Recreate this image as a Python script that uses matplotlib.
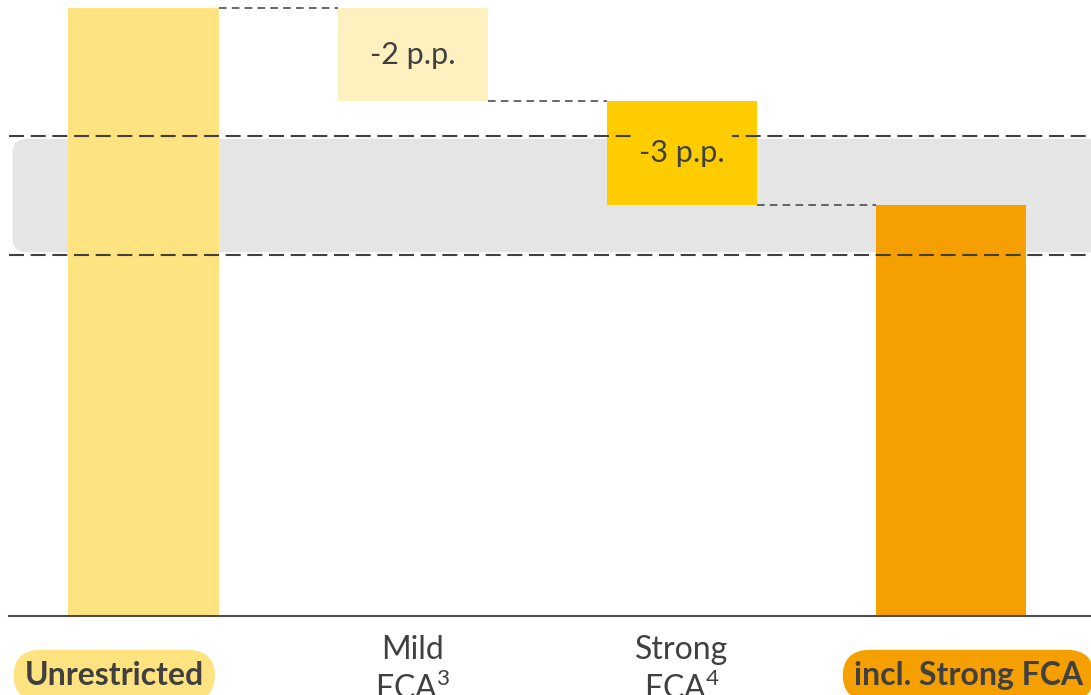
import matplotlib.pyplot as plt
from matplotlib.patches import FancyBboxPatch

plt.rcParams["font.family"] = ["Lato", "DejaVu Sans"]
plt.rcParams["mathtext.fontset"] = "custom"
plt.rcParams["mathtext.rm"] = "Lato"

# waterfall data (percentage points)
categories = ["Unrestricted", "Mild", "Strong", "incl. Strong FCA"]
footnotes = [None, "3", "4", None]
unrestricted = 15.0
changes = [-2.3, -2.55]
target_band = [8.9, 11.85]

bar_colors = ["#FFE380", "#FFF0C0", "#FFCC00", "#F5A000"]
text_color = "#404040"

fig = plt.figure(figsize=(10.91, 6.95), dpi=100)
ax = fig.add_axes([9 / 1091, 79 / 695, 1082 / 1091, 616 / 695])
ax.set_xlim(-0.5, 3.52)
ax.set_ylim(0, 15.2)

# bar geometry
levels = [unrestricted]
for c in changes:
    levels.append(levels[-1] + c)
final = levels[-1]
bottoms = [0.0] + [levels[i + 1] for i in range(len(changes))] + [0.0]
heights = [unrestricted] + [-c for c in changes] + [final]
xs = list(range(len(categories)))
width = 0.558

ax.bar(xs, heights, bottom=bottoms, width=width, color=bar_colors, zorder=2)

# pixel-to-data scales for rounded shapes
fig.canvas.draw()
bb = ax.get_window_extent()
x_per_px = (ax.get_xlim()[1] - ax.get_xlim()[0]) / bb.width
y_per_px = (ax.get_ylim()[1] - ax.get_ylim()[0]) / bb.height

# grey target band
inset = 3 * y_per_px
band = FancyBboxPatch((-0.487, target_band[0] + inset), 4.5,
                      target_band[1] - target_band[0] - 2 * inset,
                      boxstyle=f"round,pad=0,rounding_size={15 * x_per_px}",
                      mutation_aspect=y_per_px / x_per_px,
                      facecolor="#E5E5E5", edgecolor="none", zorder=0.5)
ax.add_patch(band)
for y in target_band:
    ax.axhline(y, color=text_color, lw=1.5, linestyle=(0, (7.2, 3.2)), zorder=3)

# connectors between bars
for i in range(len(levels)):
    ax.plot([xs[i] + width / 2, xs[i + 1] - width / 2], [levels[i], levels[i]],
            color=text_color, lw=1.1, linestyle=(0, (5.0, 3.4)), zorder=3)

# change labels
for i, c in enumerate(changes):
    x = xs[i + 1]
    y = bottoms[i + 1] + heights[i + 1] / 2
    ax.text(x, y, f"{round(c):d} p.p.", ha="center", va="center", fontsize=22,
            color=text_color, zorder=4,
            bbox=dict(boxstyle="square,pad=0.25", facecolor=bar_colors[i + 1],
                      edgecolor="none"))

# category labels
y_line1 = -(659 - 616) * y_per_px
y_line2 = -(699 - 616) * y_per_px
y_pill = -(685 - 616) * y_per_px
pill = dict(boxstyle="round,pad=0.35,rounding_size=0.85", edgecolor="none")
ax.text(-0.442, y_pill, categories[0], ha="left", va="baseline", fontsize=23,
        fontweight="bold", color=text_color, clip_on=False,
        bbox=dict(pill, facecolor=bar_colors[0]))
ax.text(3.49, y_pill, categories[3], ha="right", va="baseline", fontsize=23,
        fontweight="bold", color=text_color, clip_on=False,
        bbox=dict(pill, facecolor=bar_colors[3]))
for i in (1, 2):
    ax.text(xs[i], y_line1, categories[i], ha="center", va="baseline",
            fontsize=23, color=text_color, clip_on=False)
    ax.text(xs[i], y_line2, "FCA$^{\\mathrm{%s}}$" % footnotes[i], ha="center",
            va="baseline", fontsize=23, color=text_color, clip_on=False)

for side in ["top", "right", "left"]:
    ax.spines[side].set_visible(False)
ax.spines["bottom"].set_color("#4d4d4d")
ax.spines["bottom"].set_linewidth(1.5)
ax.set_xticks([])
ax.set_yticks([])

fig.savefig("out.png", dpi=100)
